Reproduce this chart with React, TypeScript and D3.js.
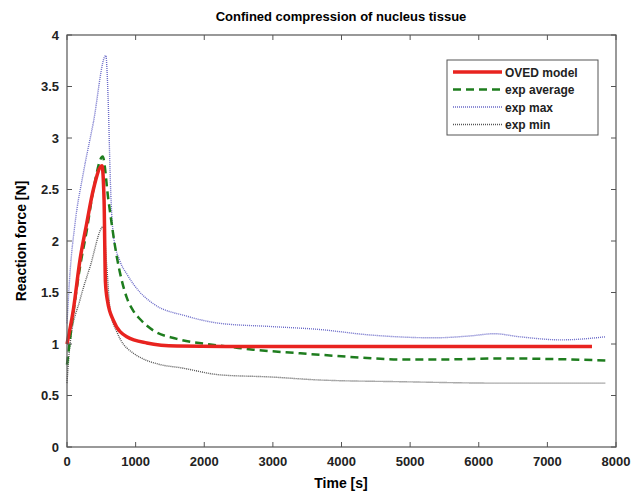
import React, { useEffect, useRef } from "react";
import * as d3 from "d3";

// time [s] and reaction force [N]
const ovedTime = [0, 92, 190, 287, 384, 510, 540, 560, 590, 676, 871, 1163, 1600, 2500, 4000, 6000, 7650];
const ovedForce = [1.0, 1.33, 1.82, 2.17, 2.5, 2.73, 2.4, 1.6, 1.42, 1.23, 1.07, 1.01, 0.98, 0.975, 0.975, 0.975, 0.975];

const avgTime = [0, 92, 190, 287, 385, 520, 603, 725, 871, 968, 1066, 1260, 1600, 2088, 2400, 2715, 3400, 3693, 4375, 4860, 5500, 6320, 7000, 7850];
const avgForce = [0.8, 1.3, 1.75, 2.1, 2.5, 2.82, 2.4, 1.85, 1.45, 1.32, 1.24, 1.13, 1.05, 0.995, 0.97, 0.945, 0.91, 0.895, 0.865, 0.85, 0.85, 0.86, 0.855, 0.84];

const maxTime = [0, 44, 117, 238, 384, 565, 603, 628, 676, 774, 871, 1066, 1260, 1747, 2234, 2964, 3693, 4375, 5350, 5900, 6220, 6600, 7200, 7850];
const maxForce = [1.2, 1.69, 2.17, 2.66, 3.15, 3.8, 3.3, 2.66, 2.05, 1.8, 1.68, 1.5, 1.39, 1.27, 1.2, 1.17, 1.14, 1.09, 1.06, 1.08, 1.1, 1.07, 1.04, 1.07];

const minTime = [0, 44, 190, 336, 530, 580, 628, 725, 774, 968, 1066, 1358, 1650, 2234, 2964, 3693, 4860, 6320, 7850];
const minForce = [0.62, 1.0, 1.43, 1.75, 2.14, 1.75, 1.33, 1.12, 1.05, 0.91, 0.87, 0.8, 0.77, 0.7, 0.68, 0.65, 0.634, 0.62, 0.62];

const xTicks = [0, 1000, 2000, 3000, 4000, 5000, 6000, 7000, 8000];
const yTicks = [0, 0.5, 1, 1.5, 2, 2.5, 3, 3.5, 4];

const seriesNames = ["OVED model", "exp average", "exp max", "exp min"];

const App = () => {
  const ref = useRef<SVGSVGElement>(null);

  useEffect(() => {
    const svg = d3.select(ref.current);
    svg.selectAll("*").remove();

    const left = 67, right = 616, top = 35, bottom = 447;
    const x = d3.scaleLinear().domain([0, 8000]).range([left, right]);
    const y = d3.scaleLinear().domain([0, 4]).range([bottom, top]);

    const series = [
      { name: seriesNames[0], t: ovedTime, f: ovedForce, color: "#e8231f", width: 3.5, dash: null },
      { name: seriesNames[1], t: avgTime, f: avgForce, color: "#1e7d1e", width: 2.5, dash: "8,5" },
      { name: seriesNames[2], t: maxTime, f: maxForce, color: "#6a6ac8", width: 1.4, dash: "1,1" },
      { name: seriesNames[3], t: minTime, f: minForce, color: "#555", width: 1.4, dash: "1,1" },
    ];

    const line = d3
      .line<[number, number]>()
      .x((d) => x(d[0]))
      .y((d) => y(d[1]))
      .curve(d3.curveMonotoneX);

    const font = "'Liberation Sans Narrow', 'Liberation Sans', Arial, sans-serif";
    const sans = "'Liberation Sans', Arial, sans-serif";

    // title
    svg
      .append("text")
      .attr("x", 341)
      .attr("y", 21)
      .attr("text-anchor", "middle")
      .attr("font-family", sans)
      .attr("font-weight", "bold")
      .attr("font-size", 13)
      .text("Confined compression of nucleus tissue");

    // lines (drawn back to front)
    [...series].reverse().forEach((s) => {
      svg
        .append("path")
        .datum(s.t.map((t, i) => [t, s.f[i]] as [number, number]))
        .attr("fill", "none")
        .attr("stroke", s.color)
        .attr("stroke-width", s.width)
        .attr("stroke-dasharray", s.dash)
        .attr("d", line);
    });

    // frame
    svg
      .append("rect")
      .attr("x", left)
      .attr("y", top)
      .attr("width", right - left)
      .attr("height", bottom - top)
      .attr("fill", "none")
      .attr("stroke", "#555")
      .attr("stroke-width", 1.2);

    // ticks inside on all sides
    const g = svg.append("g").attr("stroke", "#555").attr("stroke-width", 1);
    xTicks.forEach((t) => {
      g.append("line").attr("x1", x(t)).attr("x2", x(t)).attr("y1", bottom).attr("y2", bottom - 5);
      g.append("line").attr("x1", x(t)).attr("x2", x(t)).attr("y1", top).attr("y2", top + 5);
    });
    yTicks.forEach((t) => {
      g.append("line").attr("x1", left).attr("x2", left + 5).attr("y1", y(t)).attr("y2", y(t));
      g.append("line").attr("x1", right).attr("x2", right - 5).attr("y1", y(t)).attr("y2", y(t));
    });

    // tick labels
    svg
      .append("g")
      .selectAll("text")
      .data(xTicks)
      .join("text")
      .attr("x", (d) => x(d))
      .attr("y", 466)
      .attr("text-anchor", "middle")
      .attr("font-family", font)
      .attr("font-weight", "bold")
      .attr("font-size", 13)
      .attr("fill", "#222")
      .text((d) => d);

    svg
      .append("g")
      .selectAll("text")
      .data(yTicks)
      .join("text")
      .attr("x", 59)
      .attr("y", (d) => y(d) + 4.5)
      .attr("text-anchor", "end")
      .attr("font-family", font)
      .attr("font-weight", "bold")
      .attr("font-size", 13)
      .attr("fill", "#222")
      .text((d) => d);

    // axis labels
    svg
      .append("text")
      .attr("x", 341)
      .attr("y", 488)
      .attr("text-anchor", "middle")
      .attr("font-family", sans)
      .attr("font-weight", "bold")
      .attr("font-size", 14)
      .text("Time [s]");

    svg
      .append("text")
      .attr("transform", "translate(26,241) rotate(-90)")
      .attr("text-anchor", "middle")
      .attr("font-family", sans)
      .attr("font-weight", "bold")
      .attr("font-size", 14)
      .text("Reaction force [N]");

    // legend
    const lg = svg.append("g").attr("transform", "translate(447,60)");
    lg.append("rect")
      .attr("width", 151)
      .attr("height", 75)
      .attr("fill", "white")
      .attr("stroke", "#555")
      .attr("stroke-width", 1);
    series.forEach((s, i) => {
      const yy = 12 + i * 17.5;
      lg.append("line")
        .attr("x1", 6)
        .attr("x2", 55)
        .attr("y1", yy)
        .attr("y2", yy)
        .attr("stroke", s.color)
        .attr("stroke-width", s.width)
        .attr("stroke-dasharray", s.dash);
      lg.append("text")
        .attr("x", 58)
        .attr("y", yy + 4.5)
        .attr("font-family", sans)
        .attr("font-weight", "bold")
        .attr("font-size", 12)
        .attr("fill", "#222")
        .text(s.name);
    });
  }, []);

  return (
    <svg
      ref={ref}
      width={633}
      height={492}
      style={{ position: "absolute", left: 0, top: 0, background: "white" }}
    ></svg>
  );
};

export default App;
